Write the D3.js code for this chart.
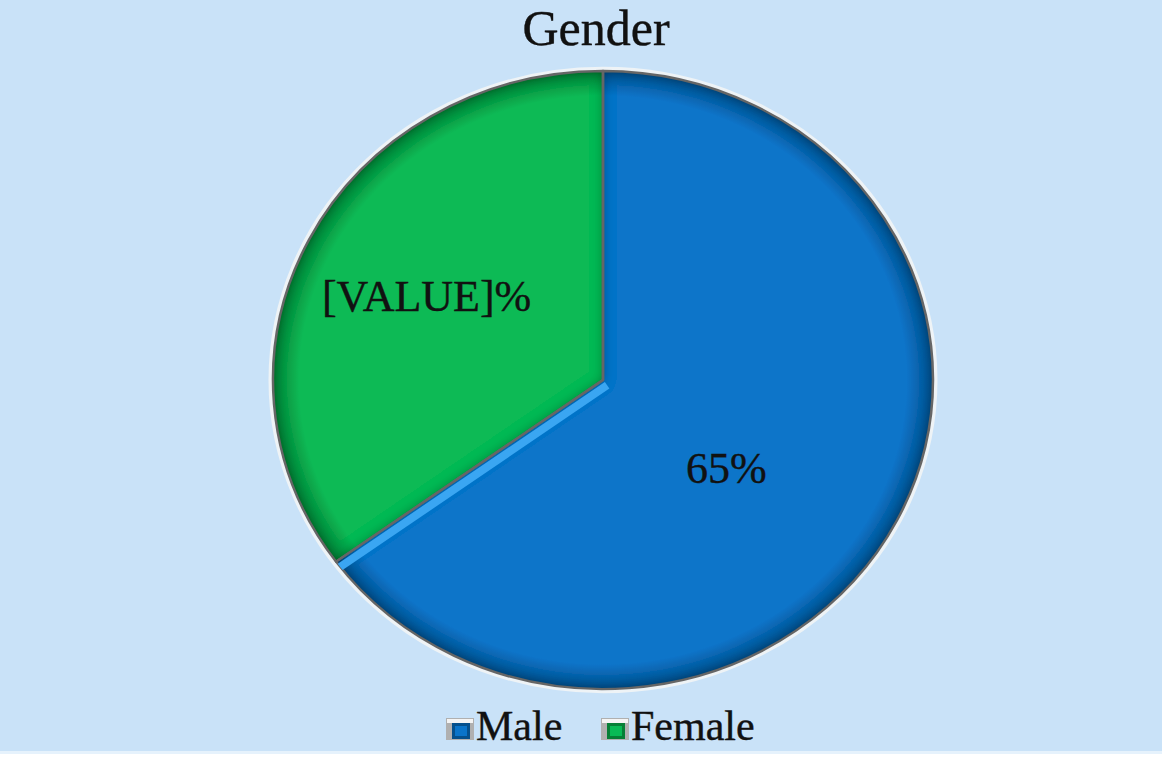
<!DOCTYPE html>
<html><head><meta charset="utf-8">
<script src="https://cdn.jsdelivr.net/npm/d3@7"></script>
<style>html,body{margin:0;padding:0;background:#fff;}svg{display:block;}</style>
</head><body>
<svg id="chart" width="1162" height="759"></svg>
<script>
const categories = ["Male", "Female"];
const values = [65, 35];
const labels = ["65%", "[VALUE]%"];
const title = "Gender";

const colors = ["#0a74c9", "#09ba55"];
const dark = ["#05508c", "#067f36"];

const W = 1162, H = 759;
const svg = d3.select("#chart");
const defs = svg.append("defs");

svg.append("rect").attr("width", W).attr("height", 751).attr("fill", "#c9e2f8");
svg.append("rect").attr("y", 751).attr("width", W).attr("height", 3).attr("fill", "#e6f2fc");

const cx = 603, cy = 380, rx = 330, ry = 309;
const sy = ry / rx;

// inset shadow filter
const f = defs.append("filter").attr("id", "inset").attr("x", "-10%").attr("y", "-10%").attr("width", "120%").attr("height", "120%");
f.append("feComponentTransfer").attr("in", "SourceAlpha").attr("result", "inv")
  .append("feFuncA").attr("type", "table").attr("tableValues", "1 0");
f.append("feGaussianBlur").attr("in", "inv").attr("stdDeviation", 6).attr("result", "blur");
f.append("feFlood").attr("flood-color", "#000").attr("flood-opacity", 0.65).attr("result", "col");
f.append("feComposite").attr("in", "col").attr("in2", "blur").attr("operator", "in").attr("result", "sh");
f.append("feComposite").attr("in", "sh").attr("in2", "SourceAlpha").attr("operator", "in").attr("result", "sh2");
const fm = f.append("feMerge");
fm.append("feMergeNode").attr("in", "SourceGraphic");
fm.append("feMergeNode").attr("in", "sh2");

colors.forEach((c, i) => {
  const g = defs.append("radialGradient").attr("id", "rg" + i)
    .attr("gradientUnits", "userSpaceOnUse").attr("cx", 0).attr("cy", 0).attr("r", rx);
  g.append("stop").attr("offset", "0").attr("stop-color", c);
  g.append("stop").attr("offset", "0.92").attr("stop-color", c);
  g.append("stop").attr("offset", "1").attr("stop-color", dark[i]);
});

const pie = d3.pie().sort(null).value(d => d)(values);
const arc = d3.arc().innerRadius(0).outerRadius(rx);

const outer = svg.append("g").attr("transform", `translate(${cx},${cy}) scale(1,${sy})`);
// outer light rim
outer.append("circle").attr("r", rx + 2).attr("fill", "none").attr("stroke", "#eef3f6").attr("stroke-width", 5);

const slices = outer.selectAll("g.slice").data(pie).join("g").attr("class", "slice");
slices.append("path").attr("d", arc)
  .attr("fill", (d, i) => `url(#rg${i})`)
  .attr("filter", "url(#inset)");

// highlight bevel on male slice along its end edge
const clip = defs.append("clipPath").attr("id", "maleClip");
clip.append("path").attr("d", arc(pie[0])).attr("transform", `translate(${cx},${cy}) scale(1,${sy})`);
const a = pie[0].endAngle;
const off = 7;
const px = Math.cos(a) * off * -1, py = Math.sin(a) * off * -1;
svg.append("g").attr("clip-path", "url(#maleClip)")
  .append("line")
  .attr("x1", cx + px).attr("y1", cy + py * sy)
  .attr("x2", cx + px + Math.sin(a) * rx * 1.1).attr("y2", cy + (py - Math.cos(a) * rx * 1.1) * sy)
  .attr("stroke", "#3aa6f2").attr("stroke-width", 8).attr("stroke-linecap", "butt");

outer.selectAll("path.edge").data(pie).join("path").attr("class", "edge").attr("d", arc)
  .attr("fill", "none").attr("stroke", "#666").attr("stroke-width", 2.5).attr("stroke-linejoin", "round");

const font = "Liberation Serif, Times New Roman, serif";
// labels
const labelR = [0.47, 0.6];
const angOff = [0.18, 0];
pie.forEach((d, i) => {
  const ang = (d.startAngle + d.endAngle) / 2 + angOff[i];
  const r = labelR[i] * rx;
  svg.append("text")
    .attr("x", cx + Math.sin(ang) * r)
    .attr("y", cy - Math.cos(ang) * r * sy + 15)
    .attr("text-anchor", "middle")
    .attr("font-family", font)
    .attr("font-size", 44).attr("fill", "#111")
    .attr("stroke", "#111").attr("stroke-width", 0.4)
    .text(labels[i]);
});

svg.append("text").attr("x", 596).attr("y", 45).attr("text-anchor", "middle")
  .attr("font-family", font)
  .attr("font-size", 50).attr("fill", "#111")
  .attr("stroke", "#111").attr("stroke-width", 0.4).text(title);

// legend
const legX = [446, 601];
categories.forEach((c, i) => {
  const g = svg.append("g").attr("transform", `translate(${legX[i]},718)`);
  g.append("rect").attr("width", 28).attr("height", 22).attr("fill", "#b0b0b0");
  g.append("rect").attr("x", 1).attr("y", 1).attr("width", 26).attr("height", 4).attr("fill", "#f4f4f4");
  g.append("rect").attr("x", 6).attr("y", 5).attr("width", 18).attr("height", 16).attr("fill", dark[i]);
  g.append("rect").attr("x", 9).attr("y", 8).attr("width", 12).attr("height", 10).attr("fill", colors[i]);
  g.append("text").attr("x", 30).attr("y", 22)
    .attr("font-family", font)
    .attr("font-size", 42).attr("fill", "#111")
    .attr("stroke", "#111").attr("stroke-width", 0.4).text(c);
});
</script>
</body></html>
